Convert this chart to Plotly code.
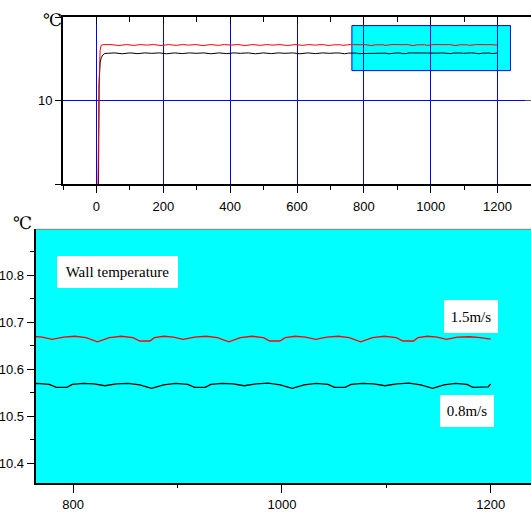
import plotly.graph_objects as go

# ---------------- data ----------------
red_t = [0, 4, 8, 11, 14, 20, 44, 67, 90, 112.7, 131, 149.9, 171, 193, 216, 238.7, 257,
         275.9, 297, 319, 342, 364.7, 383, 401.9, 423, 445, 468, 490.7, 509, 527.9, 549,
         571, 594, 616.7, 635, 653.9, 675, 697, 708.4, 719.9, 731.3, 738, 747.5, 752,
         761.3, 770.6, 779.9, 790.8, 801.7, 812.5, 823.4, 834.7, 846.1, 857.4, 864, 873.5,
         877.9, 887.1, 896.2, 905.4, 916.4, 927.3, 938.3, 949.2, 960.2, 971.3, 982.3, 988.5,
         998, 1003.1, 1012.8, 1022.6, 1032.3, 1043.1, 1053.9, 1064.6, 1075.4, 1086.8,
         1098.2, 1109.6, 1116, 1126, 1130.2, 1139.4, 1148.6, 1157.8, 1168, 1180, 1190, 1200]
red_v = [5.0, 8.8, 10.2, 10.6, 10.66, 10.668, 10.670, 10.658, 10.670, 10.660, 10.670, 10.6635,
         10.670, 10.658, 10.670, 10.660, 10.670, 10.6635, 10.670, 10.658, 10.670, 10.660,
         10.670, 10.6635, 10.670, 10.658, 10.670, 10.660, 10.670, 10.6635, 10.670, 10.658,
         10.670, 10.660, 10.670, 10.6635, 10.670, 10.658, 10.667, 10.670, 10.667, 10.660,
         10.660, 10.667, 10.670, 10.668, 10.6635, 10.668, 10.670, 10.667, 10.658, 10.667,
         10.670, 10.667, 10.660, 10.660, 10.667, 10.670, 10.668, 10.6635, 10.668, 10.670,
         10.667, 10.658, 10.667, 10.670, 10.667, 10.660, 10.660, 10.667, 10.670, 10.668,
         10.6635, 10.668, 10.670, 10.667, 10.658, 10.667, 10.670, 10.667, 10.660, 10.660,
         10.667, 10.670, 10.668, 10.6635, 10.668, 10.669, 10.667, 10.664]

black_t = [0, 5, 8, 11, 14, 19, 25, 32.4, 55, 77.1, 100, 123.9, 145, 165.4, 188, 210.1, 233,
           256.9, 278, 298.4, 321, 343.1, 366, 389.9, 411, 431.4, 454, 476.1, 499, 522.9, 544,
           564.4, 587, 609.1, 632, 655.9, 677, 697.4, 708.6, 719.8, 730.9, 742.1, 753.8,
           765.5, 777.2, 784, 794, 799.3, 809.7, 820.0, 830.4, 841.6, 852.8, 863.9, 875.1,
           886.7, 898.3, 909.8, 916.5, 926.5, 932.0, 942.7, 953.3, 963.9, 975.4, 986.9,
           998.4, 1009.9, 1021.3, 1032.8, 1044.2, 1050.5, 1060.5, 1066.4, 1077.2, 1087.9,
           1098.7, 1110.1, 1121.6, 1133.0, 1144.4, 1155.3, 1166.3, 1177.2, 1183, 1194,
           1197.5, 1200]
black_v = [5.0, 9.2, 10.2, 10.45, 10.51, 10.545, 10.563, 10.565, 10.570, 10.5595, 10.570,
           10.5615, 10.570, 10.565, 10.570, 10.5595, 10.570, 10.5615, 10.570, 10.565, 10.570,
           10.5595, 10.570, 10.5615, 10.570, 10.565, 10.570, 10.5595, 10.570, 10.5615, 10.570,
           10.565, 10.570, 10.5595, 10.570, 10.5615, 10.570, 10.565, 10.569, 10.570, 10.567,
           10.5595, 10.567, 10.570, 10.568, 10.5615, 10.5615, 10.568, 10.570, 10.569, 10.565,
           10.569, 10.570, 10.567, 10.5595, 10.567, 10.570, 10.568, 10.5615, 10.5615, 10.568,
           10.570, 10.569, 10.565, 10.569, 10.5705, 10.567, 10.5595, 10.567, 10.570, 10.568,
           10.5615, 10.5615, 10.568, 10.570, 10.569, 10.565, 10.569, 10.5705, 10.567, 10.5595,
           10.567, 10.570, 10.568, 10.5615, 10.5615, 10.5625, 10.5686]

# axis ranges / ticks
top_x_range = [-100, 1300]
top_y_range = [9, 11]
top_y_ticks = [9, 10, 11]
top_y_text = ["", "10", ""]
zoom_x_range = [764.2, 1238.6]
zoom_y_range = [10.358, 10.897]

series_names = ["0.8m/s", "1.5m/s"]
series_colors = ["#000000", "#ff0000"]

W, H = 531, 514


def px(x):
    return x / W


def py(y):
    return 1 - y / H


TICK_FONT = dict(family="Liberation Sans, Arial", size=13, color="#000")
SERIF = "Liberation Serif, Times New Roman, serif"

fig = go.Figure()

for tt, vv, nm, col in [(black_t, black_v, series_names[0], series_colors[0]),
                        (red_t, red_v, series_names[1], series_colors[1])]:
    fig.add_trace(go.Scatter(x=tt, y=vv, name=nm, mode="lines",
                             line=dict(color=col, width=1), xaxis="x", yaxis="y",
                             showlegend=False, hoverinfo="skip"))
for tt, vv, nm, col in [(black_t, black_v, series_names[0], series_colors[0]),
                        (red_t, red_v, series_names[1], series_colors[1])]:
    fig.add_trace(go.Scatter(x=tt, y=vv, name=nm, mode="lines",
                             line=dict(color=col, width=1.3), xaxis="x2", yaxis="y2",
                             showlegend=False, hoverinfo="skip"))
# helper trace for the mirrored (top / right) axes of the upper panel
fig.add_trace(go.Scatter(x=[None], y=[None], xaxis="x3", yaxis="y3", showlegend=False,
                         hoverinfo="skip"))

top_dom_y = [py(184), py(17)]
bot_dom_y = [py(483.3), py(229.3)]

fig.update_layout(
    width=W, height=H,
    margin=dict(l=0, r=0, t=0, b=0, autoexpand=False),
    paper_bgcolor="white", plot_bgcolor="white",
    showlegend=False,
    xaxis=dict(domain=[px(63), 1], anchor="y", range=top_x_range, automargin=False,
               tick0=0, dtick=200, ticks="outside", ticklen=7, tickwidth=1, tickcolor="#000",
               minor=dict(dtick=100, tick0=0, ticks="outside", ticklen=4, tickcolor="#000", showgrid=False),
               showline=True, linecolor="#000", linewidth=2,
               showgrid=True, gridcolor="#0000ff", gridwidth=1, zeroline=False,
               tickfont=TICK_FONT, ticklabelstandoff=2),
    yaxis=dict(domain=top_dom_y, anchor="x", range=top_y_range, automargin=False,
               tickmode="array", tickvals=top_y_ticks, ticktext=top_y_text,
               ticks="outside", ticklen=6, tickcolor="#000",
               showline=True, linecolor="#000", linewidth=2,
               showgrid=True, gridcolor="#0000ff", gridwidth=1, zeroline=False,
               tickfont=TICK_FONT, ticklabelstandoff=0),
    xaxis3=dict(overlaying="x", anchor="y3", side="top", range=top_x_range, automargin=False,
                tick0=0, dtick=200, ticks="inside", ticklen=7, tickcolor="#000",
                minor=dict(dtick=100, tick0=0, ticks="inside", ticklen=5, tickcolor="#000", showgrid=False),
                showticklabels=False, showline=True, linecolor="#000", linewidth=2,
                showgrid=False, zeroline=False),
    yaxis3=dict(overlaying="y", anchor="x3", side="right", range=top_y_range, automargin=False,
                tickmode="array", tickvals=[10], ticks="inside", ticklen=6, tickcolor="#555",
                showticklabels=False, showline=True, linecolor="#000", linewidth=2,
                showgrid=False, zeroline=False),
    xaxis2=dict(domain=[px(35.7), 1], anchor="y2", range=zoom_x_range, automargin=False,
                tick0=800, dtick=200, ticks="outside", ticklen=8, tickcolor="#000",
                minor=dict(dtick=100, tick0=800, ticks="outside", ticklen=3, tickcolor="#000", showgrid=False),
                showline=True, linecolor="#000", linewidth=2,
                showgrid=False, zeroline=False, tickfont=TICK_FONT, ticklabelstandoff=0),
    yaxis2=dict(domain=bot_dom_y, anchor="x2", range=zoom_y_range, automargin=False,
                tick0=10.4, dtick=0.1, tickformat=".1f", ticks="outside", ticklen=7, tickcolor="#000",
                minor=dict(dtick=0.05, tick0=10.4, ticks="outside", ticklen=4, tickcolor="#000", showgrid=False),
                showline=True, linecolor="#000", linewidth=2,
                showgrid=False, zeroline=False, tickfont=TICK_FONT, ticklabelstandoff=0),
)

# zoom window marked on upper panel
fig.add_shape(type="rect", xref="x", yref="y",
              x0=zoom_x_range[0], x1=zoom_x_range[1], y0=zoom_y_range[0], y1=zoom_y_range[1],
              fillcolor="#00ffff", line=dict(color="#0000ff", width=1), layer="below")
# cyan background of lower panel
fig.add_shape(type="rect", xref="x2 domain", yref="y2 domain", x0=0, x1=1, y0=0, y1=1,
              fillcolor="#00ffff", line=dict(width=0), layer="below")
fig.add_shape(type="line", xref="x2 domain", yref="y2 domain", x0=0, x1=1, y0=1, y1=1,
              line=dict(color="#808080", width=1))

# unit labels
for cx, cy in [(52, 20), (22.5, 223)]:
    fig.add_annotation(text="℃", xref="paper", yref="paper", x=px(cx), y=py(cy),
                       xanchor="center", yanchor="middle", showarrow=False,
                       font=dict(family="DejaVu Serif, Liberation Serif, serif", size=17, color="#000"))

# boxed labels
for txt, x0, y0, x1, y1 in [("Wall temperature", 57, 256, 178, 288),
                            (series_names[1], 444, 300, 498, 333),
                            (series_names[0], 440, 395, 494, 427)]:
    fig.add_annotation(text=txt, xref="paper", yref="paper", x=px(x0), y=py(y0),
                       xanchor="left", yanchor="top", showarrow=False,
                       width=x1 - x0, height=y1 - y0, align="center", valign="middle",
                       bgcolor="white", borderpad=0, borderwidth=0,
                       font=dict(family=SERIF, size=15, color="#000"))

# remove the default 8px page margin so the figure fills the window exactly
fig.write_html("out.html", config={"displayModeBar": False},
               post_script="document.body.style.margin='0px';")
